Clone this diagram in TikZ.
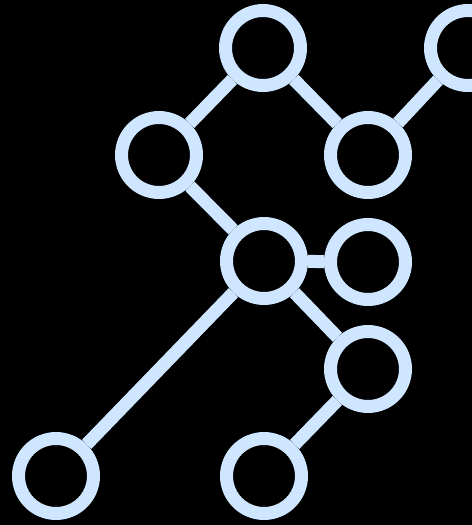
\documentclass[tikz,border=0pt]{standalone}
\usepackage{xcolor}
\usepackage{tikz}
\definecolor{myblack}{RGB}{0,0,0}
\definecolor{mylight}{RGB}{206,230,255}
\tikzset{
  ring/.style={circle, draw=mylight, minimum size=1.5cm,
    inner sep=0pt, line width=0.26cm},
  link/.style={draw=mylight, line width=0.26cm}
}

\begin{document}
\begin{tikzpicture}[x=0.02cm, y=-0.02cm]
  % Background
  \fill[myblack] (0,0) rectangle (472,525);
  \clip (0,0) rectangle (472,525);

  % Rings
  \node[ring] (top) at (263,48) {};
  \node[ring] (topr) at (468,48) {};
  \node[ring] (left) at (159,155) {};
  \node[ring] (midr) at (368,155) {};
  \node[ring] (hub) at (264,261) {};
  \node[ring] (right) at (368,262) {};
  \node[ring] (lowr) at (368,369) {};
  \node[ring] (botl) at (56,476) {};
  \node[ring] (botm) at (264,476) {};

  % Links
  \draw[link] (top) -- (left);
  \draw[link] (top) -- (midr);
  \draw[link] (midr) -- (topr);
  \draw[link] (left) -- (hub);
  \draw[link] (hub) -- (right);
  \draw[link] (hub) -- (lowr);
  \draw[link] (hub) -- (botl);
  \draw[link] (lowr) -- (botm);
\end{tikzpicture}
\end{document}
